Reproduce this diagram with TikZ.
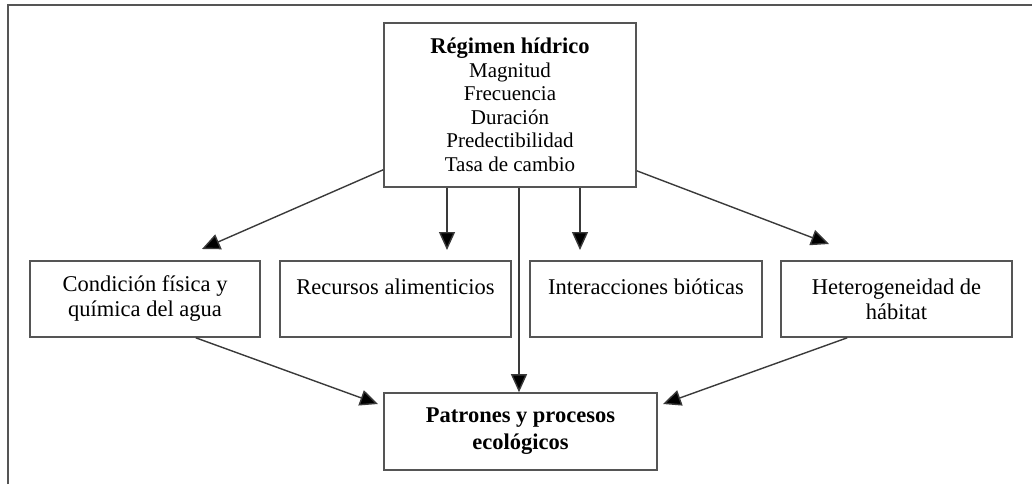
\documentclass[tikz,border=0pt]{standalone}
\usepackage{fontspec}
\setmainfont{Liberation Serif}
\usetikzlibrary{arrows.meta,calc}
\definecolor{boxgray}{HTML}{555555}
\definecolor{linegray}{HTML}{3A3A3A}
\tikzset{
  box/.style={draw=boxgray, line width=1.6pt, rectangle, inner sep=0pt, align=center, anchor=center},
  midfont/.style={font=\fontsize{22.5}{25}\selectfont},
  topfont/.style={font=\fontsize{21}{23.5}\selectfont},
  arr/.style={draw=linegray, line width=1.4pt, -{Triangle[length=18pt,width=16pt,fill=black]}},
}
\begin{document}
\begin{tikzpicture}[x=1pt,y=-1pt]
\useasboundingbox (0,0) rectangle (1032,484);
% outer frame (top and left only)
\draw[draw=boxgray, line width=2pt] (8,484) -- (8,5) -- (1032,5);

\node[box, topfont, minimum width=252pt, minimum height=164pt] (top) at (510,105)
  {{\fontsize{22.5}{23.5}\selectfont\bfseries Régimen hídrico}\\Magnitud\\Frecuencia\\Duración\\Predectibilidad\\Tasa de cambio};

\node[box, midfont, minimum width=230pt, minimum height=76pt] (b1) at (145,299)
  {Condición física y\\química del agua};
\node[box, midfont, minimum width=231pt, minimum height=76pt] (b2) at (395.5,299)
  {Recursos alimenticios\\\mbox{}};
\node[box, midfont, minimum width=232pt, minimum height=76pt] (b3) at (646,299)
  {Interacciones bióticas\\\mbox{}};
\node[box, midfont, minimum width=231pt, minimum height=76pt] (b4) at (896.5,299)
  {Heterogeneidad de\\hábitat};

\node[box, font=\fontsize{22.5}{27}\selectfont\bfseries, minimum width=273pt, minimum height=77pt] (bot) at (520.5,431.5)
  {Patrones y procesos\\ecológicos};

% arrow tips (free ends)
\coordinate (t1) at (202,249);
\coordinate (t2) at (447,250);
\coordinate (t3) at (580,250);
\coordinate (t4) at (829,244);
\coordinate (t5) at (378,404);
\coordinate (t6) at (663,404);

\draw[arr] ([yshift=18pt]top.south west) -- (t1);
\draw[arr] (top.south -| t2) -- (t2);
\draw[arr] (top.south -| t3) -- (t3);
\draw[arr] ([yshift=17pt]top.south east) -- (t4);
\draw[arr] ([xshift=9pt]top.south) -- ([xshift=9pt]top.south |- bot.north);
\draw[arr] ([xshift=-65pt]b1.south east) -- (t5);
\draw[arr] ([xshift=67pt]b4.south west) -- (t6);
\end{tikzpicture}
\end{document}
